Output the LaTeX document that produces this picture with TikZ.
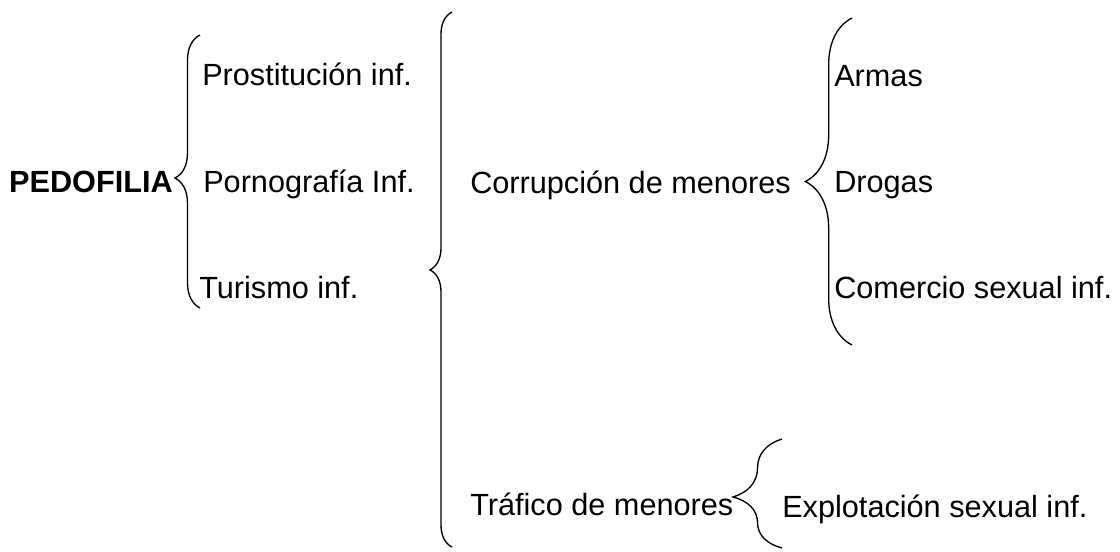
\documentclass[tikz,border=0pt]{standalone}
\usepackage{fontspec}
\setmainfont{Liberation Sans}
\usetikzlibrary{decorations.pathreplacing}

\begin{document}
\begin{tikzpicture}[x=0.75pt, y=-0.75pt,
    item/.style={anchor=base west, inner sep=0pt, font=\fontsize{23}{27}\selectfont},
    curly/.style 2 args={decorate, decoration={brace, amplitude=#1, aspect=#2}, line width=1pt}]
    \useasboundingbox (0,0) rectangle (1120,551);

    % first level
    \node[item, anchor=base east, font=\bfseries\fontsize{23}{27}\selectfont] (ped) at (173,192) {PEDOFILIA};
    \node[item] (prost) at (202,85) {Prostitución inf.};
    \node[item] (porno) at (203,192) {Pornografía Inf.};
    \node[item] (turis) at (199,298) {Turismo inf.};

    % second level
    \node[item] (corr) at (470,193) {Corrupción de menores};
    \node[item] (traf) at (470,515) {Tráfico de menores};

    % third level
    \node[item] (armas) at (834,86) {Armas};
    \node[item] (drogas) at (834,192) {Drogas};
    \node[item] (comer) at (834,298) {Comercio sexual inf.};
    \node[item] (explot) at (782,517) {Explotación sexual inf.};

    % braces
    \coordinate (ped-top) at (200,35);
    \coordinate (ped-bot) at (200,308);
    \coordinate (inf-top) at (452,12);
    \coordinate (inf-bot) at (452,547);
    \coordinate (corr-top) at (852,18);
    \coordinate (corr-bot) at (852,345);
    \coordinate (traf-top) at (782,439);
    \coordinate (traf-bot) at (782,548);
    \draw[curly={18.75pt}{0.476}] (ped-bot) -- (ped-top);
    \draw[curly={16.5pt}{0.518}] (inf-bot) -- (inf-top);
    \draw[curly={35pt}{0.5}] (corr-bot) -- (corr-top);
    \draw[curly={36.75pt}{0.468}] (traf-bot) -- (traf-top);

\end{tikzpicture}
\end{document}
